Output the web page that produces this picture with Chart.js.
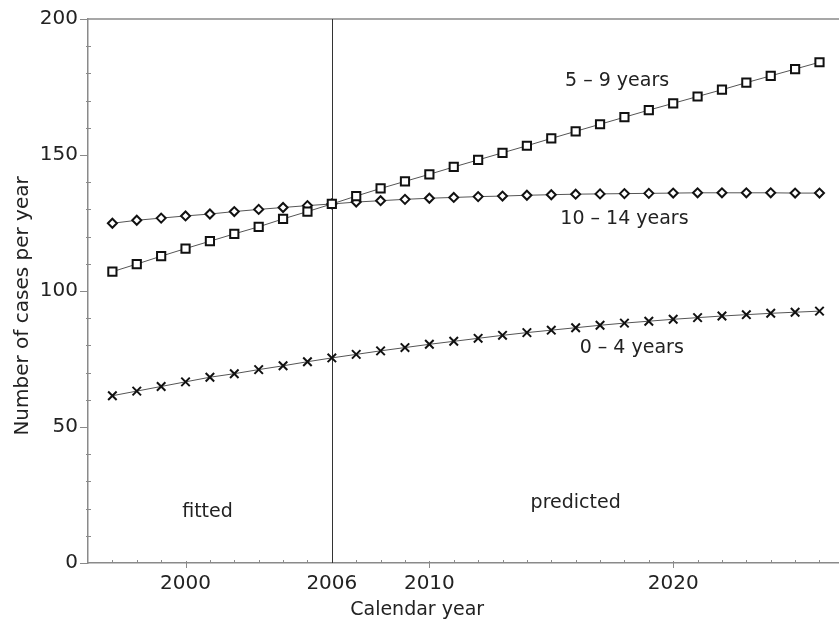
<!DOCTYPE html>
<html>
<head>
<meta charset="utf-8">
<script src="https://cdn.jsdelivr.net/npm/chart.js@4.4.1/dist/chart.umd.min.js"></script>
<style>
  html, body { margin: 0; padding: 0; background: #fff; overflow: hidden; }
  canvas { display: block; }
</style>
</head>
<body>
<canvas id="c" width="839" height="623"></canvas>
<script>
// ---- data ----
const years = [1997,1998,1999,2000,2001,2002,2003,2004,2005,2006,2007,2008,2009,2010,2011,2012,2013,2014,2015,2016,2017,2018,2019,2020,2021,2022,2023,2024,2025,2026];
const age0to4 = [61.5,63.2,64.9,66.6,68.3,69.6,71.1,72.5,74.0,75.4,76.7,78.0,79.2,80.4,81.5,82.6,83.7,84.7,85.6,86.5,87.4,88.2,88.9,89.6,90.2,90.8,91.3,91.8,92.2,92.6];
const age5to9 = [107.1,109.9,112.8,115.6,118.3,121.0,123.6,126.5,129.2,132.0,134.9,137.7,140.3,142.9,145.6,148.2,150.8,153.4,156.1,158.7,161.3,163.9,166.5,169.0,171.5,174.0,176.6,179.1,181.6,184.1];
const age10to14 = [124.9,126.0,126.8,127.6,128.3,129.2,130.0,130.7,131.4,132.0,132.7,133.2,133.7,134.1,134.4,134.7,134.9,135.2,135.4,135.6,135.7,135.8,135.9,136.0,136.1,136.1,136.1,136.1,136.0,136.0];
const xTickLabels = [2000, 2006, 2010, 2020];
const xMajorTicks = [2000, 2010, 2020];
const yTickLabels = [0, 50, 100, 150, 200];
const fitEndYear = 2006;
const seriesNames = ['0 – 4 years', '5 – 9 years', '10 – 14 years'];
const xTitle = 'Calendar year';
const yTitle = 'Number of cases per year';
const annotations = [
  { text: '5 – 9 years',   x: 2017.7, y: 177.2 },
  { text: '10 – 14 years', x: 2018.0, y: 126.5 },
  { text: '0 – 4 years',   x: 2018.3, y: 78.9 },
  { text: 'fitted',        x: 2000.9, y: 18.8 },
  { text: 'predicted',     x: 2016.0, y: 22.0 }
];
const xTitleAt = 2009.5;   // x value under the title centre
const yTitleAt = 94.5;     // y value beside the title centre

// ---- styles ----
const FONT = 'DejaVu Sans';
const TEXT = '#222';
const AXIS = '#8a8a8a';

const pts = arr => years.map((yr, i) => ({ x: yr, y: arr[i] }));

const decor = {
  id: 'decor',
  beforeDatasetsDraw(chart) {
    const { ctx, chartArea: a, scales: { x, y } } = chart;
    ctx.save();
    ctx.strokeStyle = AXIS; ctx.lineWidth = 1.5;
    ctx.beginPath(); ctx.moveTo(a.left, a.top); ctx.lineTo(a.right, a.top); ctx.stroke();
    ctx.lineWidth = 1;
    years.forEach(v => {
      const px = Math.round(x.getPixelForValue(v)) + 0.5;
      ctx.beginPath();
      if (xMajorTicks.includes(v)) { ctx.moveTo(px, a.bottom - 2); ctx.lineTo(px, a.bottom + 5); }
      else { ctx.moveTo(px, a.bottom); ctx.lineTo(px, a.bottom - 3); }
      ctx.stroke();
    });
    for (let v = 10; v < 200; v += 10) {
      if (v % 50 === 0) continue;
      const py = Math.round(y.getPixelForValue(v)) + 0.5;
      ctx.beginPath(); ctx.moveTo(a.left - 2, py); ctx.lineTo(a.left + 3, py); ctx.stroke();
    }
    const xp = Math.round(x.getPixelForValue(fitEndYear)) + 0.5;
    ctx.strokeStyle = '#333'; ctx.lineWidth = 1;
    ctx.beginPath(); ctx.moveTo(xp, a.bottom); ctx.lineTo(xp, a.top); ctx.stroke();
    ctx.restore();
  },
  afterDraw(chart) {
    const { ctx, scales: { x, y } } = chart;
    ctx.save();
    ctx.fillStyle = TEXT;
    ctx.textAlign = 'center';
    ctx.textBaseline = 'middle';
    ctx.font = '19px "' + FONT + '"';
    annotations.forEach(an => ctx.fillText(an.text, x.getPixelForValue(an.x), y.getPixelForValue(an.y)));
    ctx.font = '19px "' + FONT + '"';
    ctx.fillText(xTitle, x.getPixelForValue(xTitleAt), 610);
    ctx.font = '20px "' + FONT + '"';
    ctx.translate(23, y.getPixelForValue(yTitleAt));
    ctx.rotate(-Math.PI / 2);
    ctx.fillText(yTitle, 0, 0);
    ctx.restore();
  }
};

const common = {
  borderColor: '#555',
  borderWidth: 1,
  pointBorderColor: '#111',
  pointBackgroundColor: '#fff',
  pointBorderWidth: 2,
  fill: false,
  tension: 0,
  clip: 10
};

new Chart(document.getElementById('c'), {
  type: 'line',
  data: {
    datasets: [
      Object.assign({ label: seriesNames[0], data: pts(age0to4), pointStyle: 'crossRot', pointRadius: 6 }, common),
      Object.assign({ label: seriesNames[1], data: pts(age5to9), pointStyle: 'rect', pointRadius: 5.8 }, common),
      Object.assign({ label: seriesNames[2], data: pts(age10to14), pointStyle: 'rectRot', pointRadius: 4.5 }, common)
    ]
  },
  options: {
    responsive: false,
    animation: false,
    devicePixelRatio: 1,
    layout: { autoPadding: false, padding: { top: 19, right: 0, left: 0, bottom: 0 } },
    plugins: { legend: { display: false }, tooltip: { enabled: false } },
    scales: {
      x: {
        type: 'linear',
        min: 1996,
        max: 2026.8,
        afterBuildTicks: axis => { axis.ticks = years.map(v => ({ value: v })); },
        afterFit: s => { s.height = 60; s.paddingLeft = 0; s.paddingRight = 0; },
        ticks: {
          autoSkip: false, maxRotation: 0, padding: 0,
          color: TEXT, font: { family: FONT, size: 20 },
          callback: v => xTickLabels.includes(v) ? String(v) : ''
        },
        grid: { drawOnChartArea: false, drawTicks: true, tickLength: 9, tickColor: 'rgba(0,0,0,0)' },
        border: { display: true, color: AXIS, width: 1.5 },
        title: { display: false }
      },
      y: {
        min: 0,
        max: 200,
        afterBuildTicks: axis => { axis.ticks = yTickLabels.map(v => ({ value: v })); },
        afterFit: s => { s.width = 88; },
        ticks: {
          autoSkip: false, padding: 2,
          color: TEXT, font: { family: FONT, size: 20 },
          callback: v => String(v)
        },
        grid: { drawOnChartArea: false, drawTicks: true, tickLength: 8, tickColor: AXIS },
        border: { display: true, color: AXIS, width: 1.5 },
        title: { display: false }
      }
    }
  },
  plugins: [decor]
});
</script>
</body>
</html>
